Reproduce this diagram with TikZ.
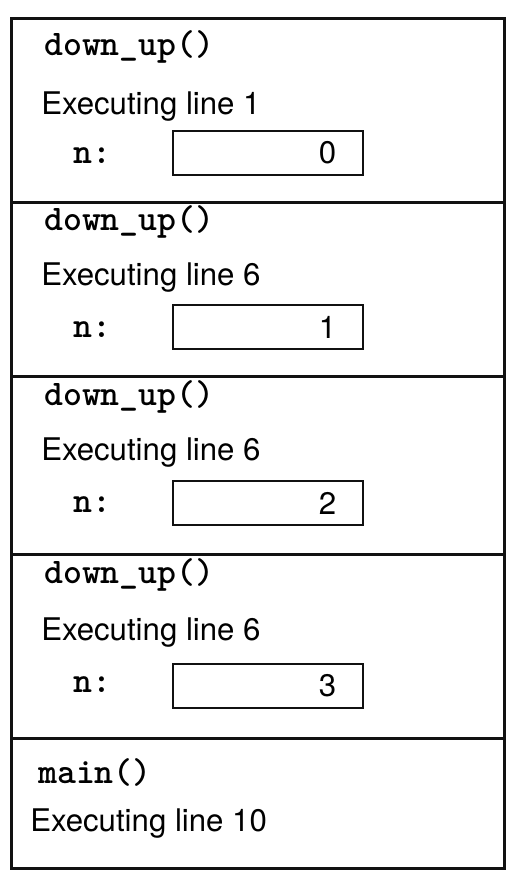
\documentclass[tikz,border=0pt]{standalone}
\usepackage{fontspec}
\setmainfont{TeX Gyre Heros}
\usepackage{tikz}
\usetikzlibrary{positioning}
\usepackage{xcolor}
\definecolor{FrameInk}{HTML}{111111}
\tikzset{
  stackframe/.style={rectangle,draw=FrameInk,line width=2.2pt,inner sep=0pt,
                     minimum width=369.75pt,minimum height=#1,anchor=north west},
  fname/.style={anchor=base west,inner sep=0pt,
                font=\ttfamily\bfseries\fontsize{27}{31}\selectfont},
  status/.style={anchor=base west,inner sep=0pt,
                 font=\fontsize{23.4}{28}\selectfont},
  varname/.style={anchor=base west,inner sep=0pt,
                  font=\ttfamily\bfseries\fontsize{27}{31}\selectfont},
  valbox/.style={rectangle,draw=FrameInk,line width=1.5pt,anchor=north west,
                 minimum width=142.5pt,minimum height=33pt,inner xsep=20pt,
                 inner ysep=0pt,text width=102.5pt,align=right,
                 font=\fontsize{23.4}{28}\selectfont},
}

\begin{document}
\begin{tikzpicture}[x=0.75pt,y=-0.75pt]
  \useasboundingbox (0,0) rectangle (520,882);

  % call stack frames, top of stack first
  \node[stackframe=138pt]   (frameA) at (10,17)  {};
  \node[stackframe=130.5pt] (frameB) at (10,201) {};
  \node[stackframe=133.5pt] (frameC) at (10,375) {};
  \node[stackframe=138pt]   (frameD) at (10,553) {};
  \node[stackframe=97.5pt]  (frameM) at (10,737) {};

  \node[fname]   (nameA)   at (44,55)  {down\_up()};
  \node[status]  (lineA)   at (41,114) {Executing line 1};
  \node[varname] (varA)    at (73,163) {n:};
  \node[valbox]  (valA)    at (172,130) {0};

  \node[fname]   (nameB)   at (44,230) {down\_up()};
  \node[status]  (lineB)   at (41,285) {Executing line 6};
  \node[varname] (varB)    at (73,337) {n:};
  \node[valbox]  (valB)    at (172,304) {1};

  \node[fname]   (nameC)   at (44,405) {down\_up()};
  \node[status]  (lineC)   at (41,460) {Executing line 6};
  \node[varname] (varC)    at (73,512) {n:};
  \node[valbox]  (valC)    at (172,480) {2};

  \node[fname]   (nameD)   at (44,583) {down\_up()};
  \node[status]  (lineD)   at (41,640) {Executing line 6};
  \node[varname] (varD)    at (73,692) {n:};
  \node[valbox]  (valD)    at (172,663) {3};

  \node[fname]   (nameM)   at (38,783) {main()};
  \node[status]  (lineM)   at (30,831) {Executing line 10};

\end{tikzpicture}
\end{document}
